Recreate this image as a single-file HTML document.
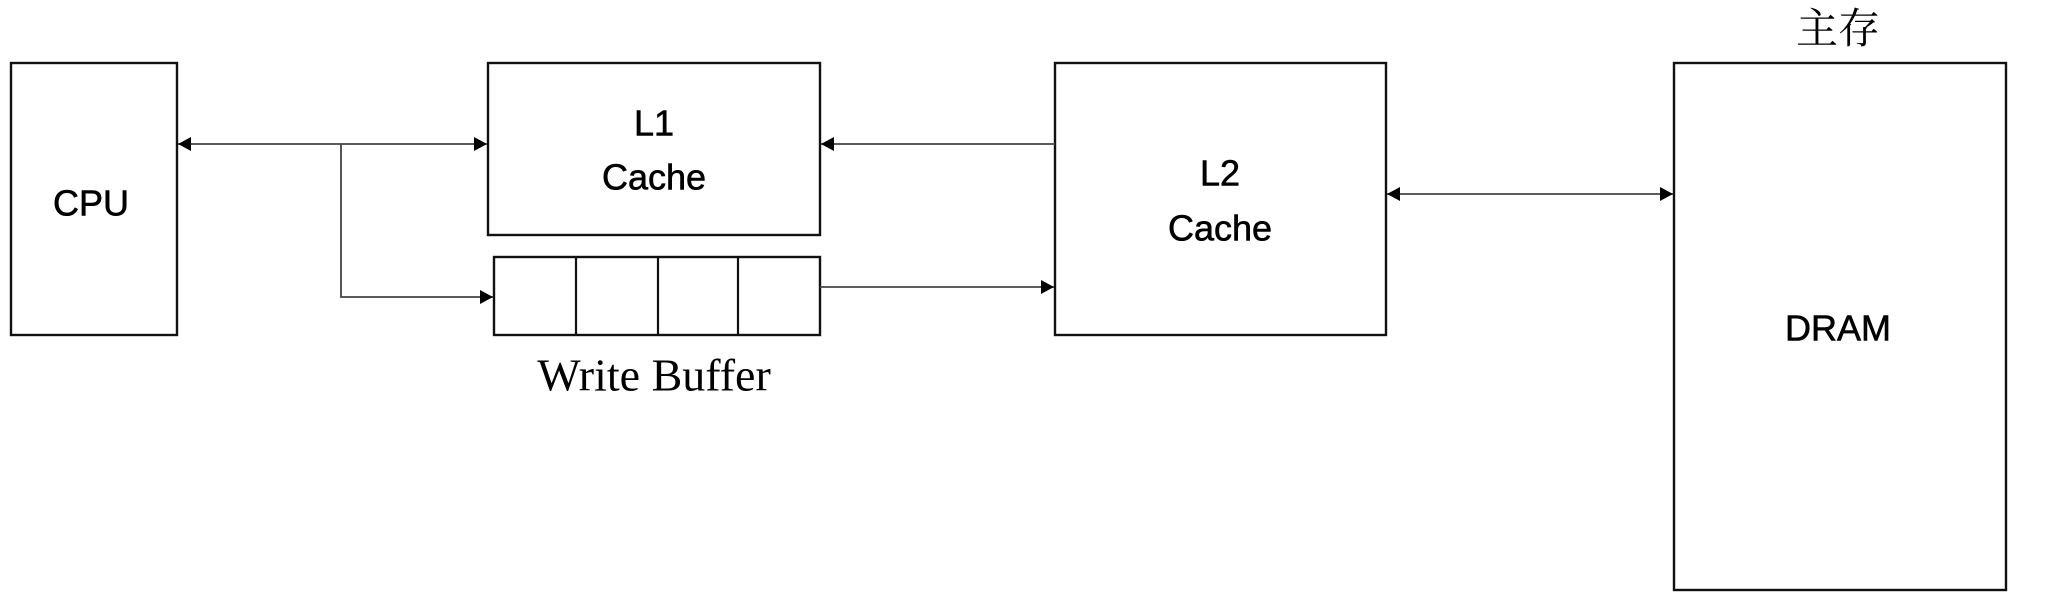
<!DOCTYPE html>
<html><head><meta charset="utf-8"><style>
html,body{margin:0;padding:0;background:#fff;}
</style></head><body>
<svg width="2070" height="595" viewBox="0 0 2070 595" xmlns="http://www.w3.org/2000/svg">
<defs>
<marker id="a" markerWidth="14" markerHeight="14" refX="13" refY="7" orient="auto-start-reverse" markerUnits="userSpaceOnUse">
<path d="M0,0 L13,7 L0,14 z" fill="#000"/></marker>
</defs>
<g fill="#fff" stroke="#111" stroke-width="2.4">
<rect x="11" y="63" width="166" height="272"/>
<rect x="488" y="63" width="332" height="172"/>
<rect x="494" y="257" width="326" height="78"/>
<rect x="1055" y="63" width="331" height="272"/>
<rect x="1674" y="63" width="332" height="527"/>
</g>
<g stroke="#111" stroke-width="2.2">
<line x1="576" y1="257" x2="576" y2="335"/>
<line x1="658" y1="257" x2="658" y2="335"/>
<line x1="738" y1="257" x2="738" y2="335"/>
</g>
<g stroke="#444" stroke-width="1.8" fill="none">
<line x1="178" y1="144" x2="487" y2="144" marker-start="url(#a)" marker-end="url(#a)"/>
<polyline points="341,144 341,297 493,297" marker-end="url(#a)"/>
<line x1="1055" y1="144" x2="821" y2="144" marker-end="url(#a)"/>
<line x1="820" y1="287" x2="1054" y2="287" marker-end="url(#a)"/>
<line x1="1387" y1="194" x2="1673" y2="194" marker-start="url(#a)" marker-end="url(#a)"/>
</g>
<g font-family="Liberation Sans, sans-serif" font-size="36" fill="#000" text-anchor="middle" dominant-baseline="central" stroke="#000" stroke-width="0.6">
<text x="91" y="203">CPU</text>
<text x="654" y="123">L1</text>
<text x="654" y="177">Cache</text>
<text x="1220" y="173">L2</text>
<text x="1220" y="228">Cache</text>
<text x="1838" y="328">DRAM</text>
</g>
<text x="654" y="375" font-family="Liberation Serif, serif" font-size="46" text-anchor="middle" dominant-baseline="central">Write Buffer</text>
<text x="1838" y="30" font-family="Liberation Serif, 'Noto Serif CJK SC', serif" font-size="42" text-anchor="middle" dominant-baseline="central">主存</text>
</svg>
</body></html>
